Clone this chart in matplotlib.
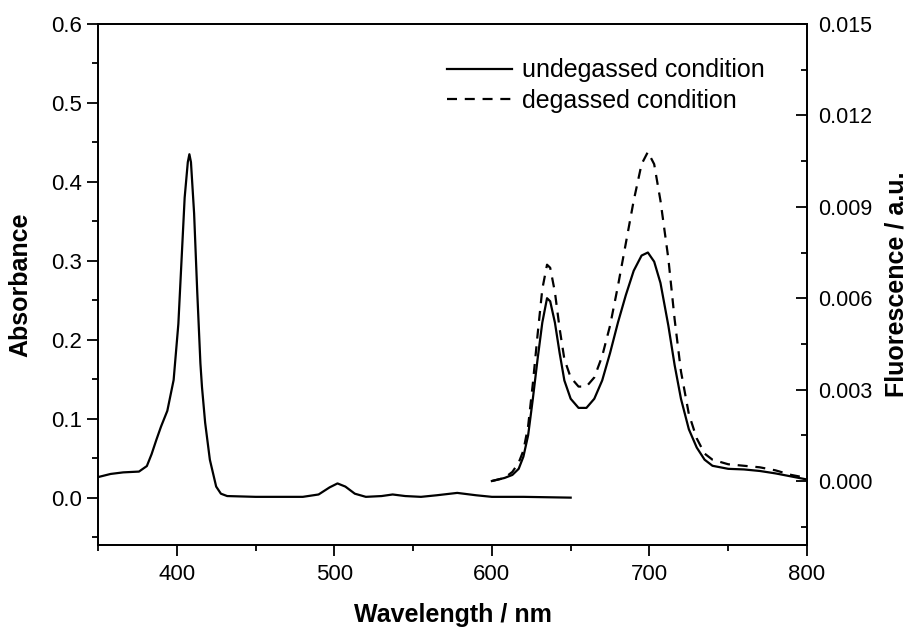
import matplotlib
matplotlib.use("Agg")
import matplotlib.pyplot as plt
import numpy as np

plt.rcParams["font.family"] = ["Liberation Sans", "DejaVu Sans"]

# absorbance spectrum (left axis)
abs_wl = [350, 358, 366, 376, 381, 384, 387, 390, 394, 398, 401, 403, 405, 407, 408,
          409, 411, 413, 415, 416, 418, 421, 425, 428, 432, 450, 480, 490, 497, 502,
          507, 513, 520, 530, 537, 545, 555, 565, 578, 590, 600, 620, 650]
absorbance = [0.026, 0.030, 0.032, 0.033, 0.040, 0.055, 0.073, 0.090, 0.110, 0.149, 0.22,
              0.30, 0.38, 0.425, 0.435, 0.425, 0.36, 0.26, 0.17, 0.14, 0.095, 0.048, 0.014,
              0.005, 0.002, 0.001, 0.001, 0.004, 0.013, 0.018, 0.014, 0.005, 0.001, 0.002,
              0.004, 0.002, 0.001, 0.003, 0.006, 0.003, 0.001, 0.001, 0.0]

# fluorescence spectra (right axis)
fl_wl = [600, 608, 613, 617, 620, 623, 626, 629, 632, 635, 637, 640, 643, 646, 650, 655,
         660, 665, 670, 675, 680, 685, 690, 695, 699, 703, 707, 712, 716, 720, 725, 730,
         735, 740, 750, 760, 770, 780, 790, 800]
fl_undegassed = [0.0, 0.0001, 0.0002, 0.0004, 0.0008, 0.0015, 0.0027, 0.0040, 0.0052,
                 0.0060, 0.0059, 0.0052, 0.0042, 0.0033, 0.0027, 0.0024, 0.0024, 0.0027,
                 0.0033, 0.0042, 0.0052, 0.0061, 0.0069, 0.0074, 0.0075, 0.0072, 0.0065,
                 0.0051, 0.0038, 0.0027, 0.0017, 0.0011, 0.0007, 0.0005, 0.0004, 0.00038,
                 0.00033, 0.00025, 0.00015, 0.00005]
fl_degassed = [0.0, 0.0001, 0.0003, 0.0006, 0.0010, 0.0018, 0.0032, 0.0048, 0.0063,
               0.0071, 0.0070, 0.0062, 0.0050, 0.0040, 0.0034, 0.0031, 0.0031, 0.0034,
               0.0041, 0.0051, 0.0064, 0.0078, 0.0092, 0.0104, 0.0108, 0.0104, 0.0092,
               0.0073, 0.0053, 0.0036, 0.0022, 0.0014, 0.0009, 0.0007, 0.00055, 0.0005,
               0.00045, 0.00035, 0.0002, 0.0001]

fig = plt.figure(figsize=(9.09, 6.27), dpi=100)
ax = fig.add_axes([98/909, 1 - 545/627, 709/909, 521/627])
ax2 = ax.twinx()

ax.plot(abs_wl, absorbance, color="black", lw=1.6)
ax2.plot(fl_wl, fl_undegassed, color="black", lw=1.6, label="undegassed condition")
ax2.plot(fl_wl, fl_degassed, color="black", lw=1.6, dashes=(4.5, 3.5), label="degassed condition")

ax.set_xlim(350, 800)
ax.set_ylim(-0.06, 0.6)
ax2.set_ylim(-0.0021, 0.015)

ax.set_xticks([400, 500, 600, 700, 800])
ax.set_xticks(np.arange(350, 801, 50), minor=True)
ax.set_yticks([0.0, 0.1, 0.2, 0.3, 0.4, 0.5, 0.6])
ax.set_yticks(np.arange(-0.05, 0.6, 0.05), minor=True)
ax.set_yticklabels(["0.0", "0.1", "0.2", "0.3", "0.4", "0.5", "0.6"])
ax2.set_yticks([0.0, 0.003, 0.006, 0.009, 0.012, 0.015])
ax2.set_yticks(np.arange(-0.0015, 0.0151, 0.0015), minor=True)
ax2.set_yticklabels(["0.000", "0.003", "0.006", "0.009", "0.012", "0.015"])

for a in (ax, ax2):
    for s in a.spines.values():
        s.set_linewidth(1.3)
ax.tick_params(axis="both", which="major", direction="out", length=8, width=1.3, labelsize=16)
ax.tick_params(axis="x", which="major", pad=6)
ax.tick_params(axis="both", which="minor", direction="out", length=4.5, width=1.3)
ax2.tick_params(axis="y", which="major", direction="in", length=8, width=1.3, labelsize=15.5, pad=8)
ax2.tick_params(axis="y", which="minor", direction="in", length=4.5, width=1.3)

ax.set_xlabel("Wavelength / nm", fontsize=18, fontweight="bold")
ax.set_ylabel("Absorbance", fontsize=18, fontweight="bold")
ax2.set_ylabel("Fluorescence / a.u.", fontsize=18, fontweight="bold")
ax.xaxis.set_label_coords(0.5, -0.111)
ax.yaxis.set_label_coords(-0.092, 0.5)
ax2.yaxis.set_label_coords(1.110, 0.5)

ax2.legend(loc="upper left", bbox_to_anchor=(0.492, 0.934), frameon=False, fontsize=18,
           handlelength=2.6, handletextpad=0.4, borderpad=0, borderaxespad=0, labelspacing=0.25)

plt.savefig("out.png", dpi=100)
